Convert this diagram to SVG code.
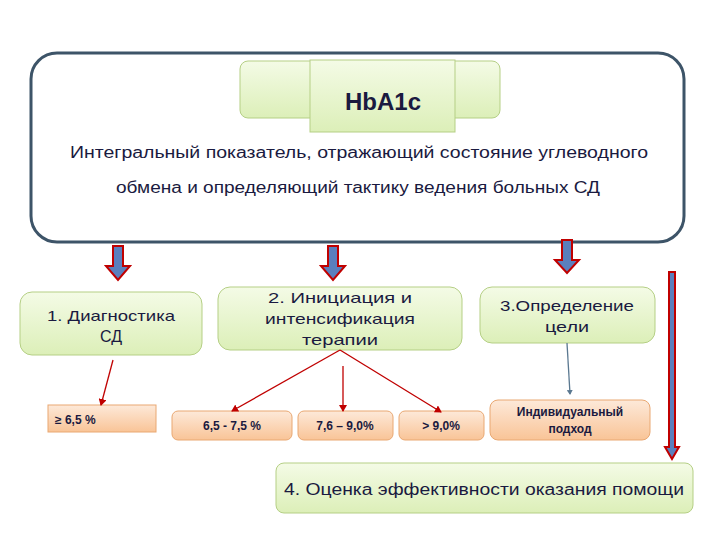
<svg xmlns="http://www.w3.org/2000/svg" width="720" height="540" viewBox="0 0 720 540">
<defs>
<linearGradient id="g" x1="0" y1="0" x2="0" y2="1"><stop offset="0" stop-color="#f4fbe6"/><stop offset="1" stop-color="#dcefb8"/></linearGradient>
<linearGradient id="o" x1="0" y1="0" x2="0" y2="1"><stop offset="0" stop-color="#fde9d9"/><stop offset="1" stop-color="#f9c497"/></linearGradient>
<marker id="ar" markerWidth="8" markerHeight="8" refX="6" refY="4" orient="auto" markerUnits="userSpaceOnUse"><path d="M0,0 L7,4 L0,8 z" fill="#c00000"/></marker>
<marker id="ab" markerWidth="6" markerHeight="6" refX="4" refY="3" orient="auto" markerUnits="userSpaceOnUse"><path d="M0,0 L5,3 L0,6 z" fill="#5a7890"/></marker>
<style>
.gb{fill:url(#g);stroke:#b5cf85;stroke-width:1}
.ob{fill:url(#o);stroke:#e9a872;stroke-width:1}
.t{font-family:"Comic Sans MS","Liberation Sans",sans-serif;fill:#1a1a40;text-anchor:middle}
.ba{fill:#5b7fbd;stroke:#c00000;stroke-width:2}
.ln{stroke:#c00000;stroke-width:1.3;fill:none}
</style>
</defs>
<g id="top">
<rect x="31" y="53" width="653" height="189" rx="26" fill="#fff" stroke="#3d5468" stroke-width="3"/>
<rect x="240" y="61" width="260" height="57" rx="8" class="gb"/>
<rect x="310" y="60" width="145" height="72" class="gb"/>
<text x="383" y="110" class="t" font-size="24" font-weight="bold">HbA1c</text>
<text x="359" y="158" class="t" font-size="16" textLength="578" lengthAdjust="spacingAndGlyphs">Интегральный показатель, отражающий состояние углеводного</text>
<text x="358" y="193" class="t" font-size="16" textLength="484" lengthAdjust="spacingAndGlyphs">обмена и определяющий тактику ведения больных СД</text>
</g>
<g id="arrows">
<path class="ba" d="M113,246 h10 v20 h7 l-12,14 l-12,-14 h7 z"/>
<path class="ba" d="M328,246 h10 v20 h7 l-12,14 l-12,-14 h7 z"/>
<path class="ba" d="M562,240 h10 v20 h7 l-12,13 l-12,-13 h7 z"/>
<path class="ba" d="M669,272 h6 v175 h4 l-7,12 l-7,-12 h4 z"/>
</g>
<g id="n1"><rect x="20" y="292" width="182" height="63" rx="12" class="gb"/><text x="111" y="321" class="t" font-size="15" textLength="128" lengthAdjust="spacingAndGlyphs">1. Диагностика</text><text x="111" y="342" class="t" font-size="16">СД</text></g>
<g id="n2"><rect x="218" y="287" width="244" height="63" rx="12" class="gb"/><text x="340" y="303" class="t" font-size="15" textLength="144" lengthAdjust="spacingAndGlyphs">2. Инициация и</text><text x="340" y="324" class="t" font-size="15" textLength="150" lengthAdjust="spacingAndGlyphs">интенсификация</text><text x="340" y="345" class="t" font-size="15" textLength="76" lengthAdjust="spacingAndGlyphs">терапии</text></g>
<g id="n3"><rect x="480" y="287" width="175" height="56" rx="12" class="gb"/><text x="567" y="311" class="t" font-size="15" textLength="134" lengthAdjust="spacingAndGlyphs">3.Определение</text><text x="567" y="332" class="t" font-size="15" textLength="44" lengthAdjust="spacingAndGlyphs">цели</text></g>
<g id="a1"><rect x="48" y="405" width="108" height="27" class="ob"/><text x="55" y="424" class="t" font-size="12" font-weight="bold" style="text-anchor:start">≥ 6,5 %</text></g>
<g id="a2"><rect x="172" y="411" width="120" height="29" rx="6" class="ob"/><text x="232" y="430" class="t" font-size="12" font-weight="bold">6,5 - 7,5 %</text></g>
<g id="a3"><rect x="298" y="411" width="95" height="29" rx="6" class="ob"/><text x="345" y="430" class="t" font-size="12" font-weight="bold">7,6 – 9,0%</text></g>
<g id="a4"><rect x="399" y="411" width="85" height="29" rx="6" class="ob"/><text x="441" y="430" class="t" font-size="12" font-weight="bold">&gt; 9,0%</text></g>
<g id="a5"><rect x="490" y="400" width="160" height="40" rx="8" class="ob"/><text x="570" y="416" class="t" font-size="12" font-weight="bold">Индивидуальный</text><text x="570" y="433" class="t" font-size="12" font-weight="bold">подход</text></g>
<g id="n4"><rect x="276" y="463" width="417" height="50" rx="8" class="gb"/><text x="484" y="495" class="t" font-size="16" textLength="400" lengthAdjust="spacingAndGlyphs">4. Оценка эффективности оказания помощи</text></g>
<g id="connectors">
<line class="ln" x1="113" y1="360" x2="101" y2="405" marker-end="url(#ar)"/>
<line class="ln" x1="340" y1="350" x2="232" y2="411" marker-end="url(#ar)"/>
<line class="ln" x1="343" y1="366" x2="343" y2="411" marker-end="url(#ar)"/>
<line class="ln" x1="340" y1="350" x2="441" y2="412" marker-end="url(#ar)"/>
<line x1="567" y1="343" x2="570" y2="394" stroke="#5a7890" stroke-width="1.3" marker-end="url(#ab)"/>
</g>
</svg>
